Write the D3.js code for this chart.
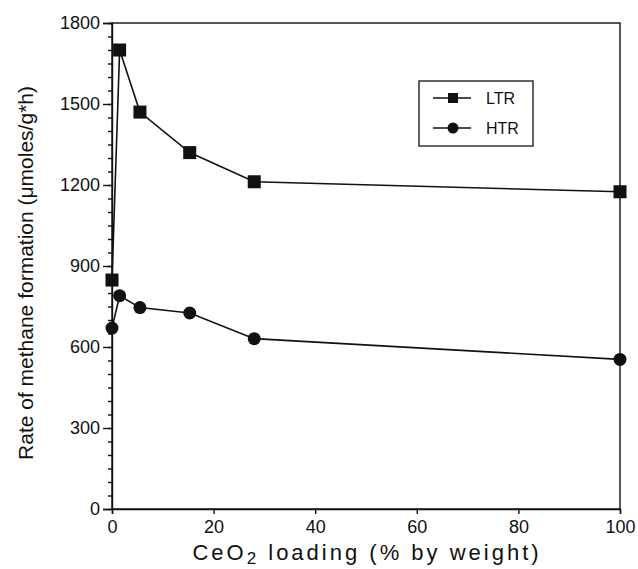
<!DOCTYPE html>
<html lang="en">
<head>
    <meta charset="UTF-8">
    <title>Methane formation vs CeO2 loading</title>
    <script src="https://d3js.org/d3.v7.min.js"></script>
    <style>
        body { margin: 0; background: white; }
        svg { font-family: "Liberation Sans", Arial, sans-serif; }
        .axis text { font-size: 18px; fill: #111; }
        .axis path, .axis line { stroke: #111; stroke-width: 1.4; }
    </style>
</head>
<body>
    <div id="chart"></div>
    <script>
        // CeO2 loading (% by weight)
        var loading = [0, 1.5, 5.5, 15.3, 28, 100];
        // rate of methane formation, umoles/g*h
        var ltr = [848, 1700, 1470, 1320, 1212, 1175];
        var htr = [670, 790, 746, 726, 631, 554];
        var xTicks = [0, 20, 40, 60, 80, 100];
        var yTicks = [0, 300, 600, 900, 1200, 1500, 1800];

        var width = 638, height = 569;
        var margin = {left: 112, right: 18, top: 23, bottom: 60};

        var svg = d3.select("#chart").append("svg")
            .attr("width", width)
            .attr("height", height);

        var x = d3.scaleLinear().domain([0, 100]).range([margin.left, width - margin.right]);
        var y = d3.scaleLinear().domain([0, 1800]).range([height - margin.bottom, margin.top]);

        // frame
        svg.append("rect")
            .attr("x", x(0)).attr("y", y(1800))
            .attr("width", x(100) - x(0)).attr("height", y(0) - y(1800))
            .attr("fill", "none").attr("stroke", "#111").attr("stroke-width", 1.4);

        // minor y ticks
        svg.append("g")
            .attr("class", "axis")
            .attr("transform", "translate(" + x(0) + ",0)")
            .call(d3.axisLeft(y).tickValues(d3.range(0, 1801, 50)).tickSize(4).tickFormat(""))
            .select(".domain").remove();

        svg.append("g")
            .attr("class", "axis")
            .attr("transform", "translate(" + x(0) + ",0)")
            .call(d3.axisLeft(y).tickValues(yTicks).tickSize(9).tickPadding(3).tickFormat(d3.format("d")));

        svg.append("g")
            .attr("class", "axis")
            .attr("transform", "translate(0," + y(0) + ")")
            .call(d3.axisBottom(x).tickValues(xTicks).tickSize(5).tickPadding(6).tickFormat(d3.format("d")));

        var line = d3.line()
            .x(function(d, i) { return x(loading[i]); })
            .y(function(d) { return y(d); });

        [ltr, htr].forEach(function(s) {
            svg.append("path")
                .datum(s)
                .attr("d", line)
                .attr("fill", "none")
                .attr("stroke", "#111")
                .attr("stroke-width", 1.6);
        });

        var sq = 13;
        svg.selectAll(".ltr")
            .data(ltr)
            .join("rect")
            .attr("class", "ltr")
            .attr("x", function(d, i) { return x(loading[i]) - sq / 2; })
            .attr("y", function(d) { return y(d) - sq / 2; })
            .attr("width", sq).attr("height", sq)
            .attr("fill", "#111");

        svg.selectAll(".htr")
            .data(htr)
            .join("circle")
            .attr("class", "htr")
            .attr("cx", function(d, i) { return x(loading[i]); })
            .attr("cy", function(d) { return y(d); })
            .attr("r", 6.5)
            .attr("fill", "#111");

        // legend
        var lg = svg.append("g").attr("transform", "translate(419,81)");
        lg.append("rect")
            .attr("width", 114).attr("height", 65)
            .attr("fill", "white").attr("stroke", "#111").attr("stroke-width", 1.3);
        var entries = [{name: "LTR", shape: "square"}, {name: "HTR", shape: "circle"}];
        entries.forEach(function(e, i) {
            var cy = 17 + i * 30;
            lg.append("line")
                .attr("x1", 14).attr("x2", 52).attr("y1", cy).attr("y2", cy)
                .attr("stroke", "#111").attr("stroke-width", 1.4);
            if (e.shape === "square") {
                lg.append("rect").attr("x", 29).attr("y", cy - 5).attr("width", 10).attr("height", 10).attr("fill", "#111");
            } else {
                lg.append("circle").attr("cx", 34).attr("cy", cy).attr("r", 5.5).attr("fill", "#111");
            }
            lg.append("text")
                .attr("x", 67).attr("y", cy + 6)
                .attr("font-size", "16px")
                .attr("fill", "#111")
                .text(e.name);
        });

        // axis titles
        svg.append("text")
            .attr("transform", "translate(33,273) rotate(-90)")
            .attr("text-anchor", "middle")
            .attr("font-size", "21px")
            .attr("fill", "#111")
            .text("Rate of methane formation (\u03bcmoles/g*h)");

        var xt = svg.append("text")
            .attr("x", 367).attr("y", 560)
            .attr("text-anchor", "middle")
            .attr("font-size", "22px")
            .attr("letter-spacing", "3px")
            .attr("fill", "#111");
        xt.append("tspan").text("CeO");
        xt.append("tspan").attr("dy", 4).attr("font-size", "17px").text("2");
        xt.append("tspan").attr("dy", -4).text(" loading (% by weight)");
    </script>
</body>
</html>
